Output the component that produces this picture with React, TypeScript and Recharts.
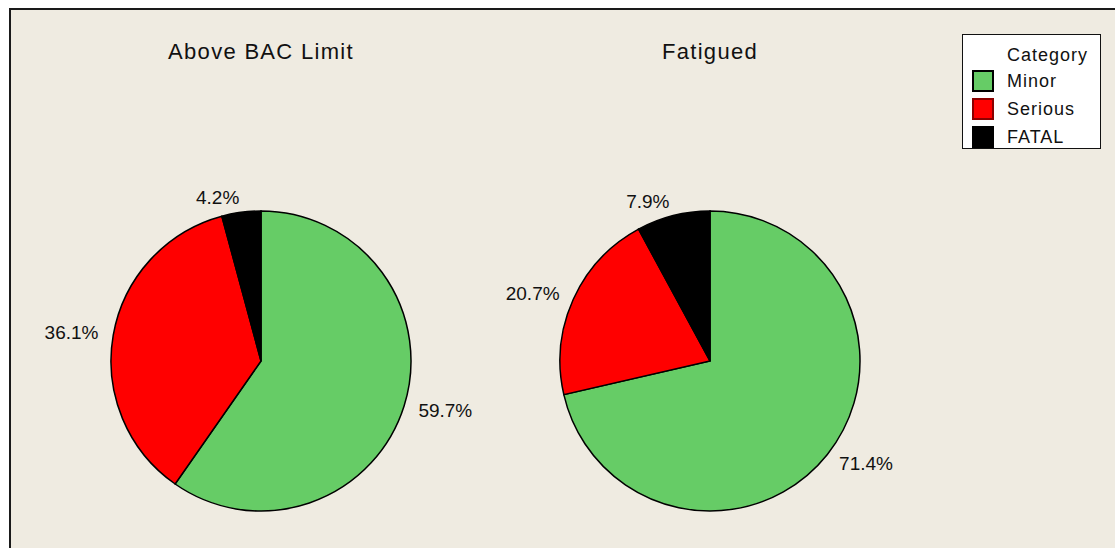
import React from 'react';
import { PieChart, Pie, Cell, Legend } from 'recharts';

const categories = ['Minor', 'Serious', 'FATAL'];
const colors = ['#66CC66', '#FF0000', '#000000'];
const swatchBorders = ['#000000', '#8B0000', '#000000'];
const aboveBacValues = [59.7, 36.1, 4.2];
const fatiguedValues = [71.4, 20.7, 7.9];
const pieTitles = ['Above BAC Limit', 'Fatigued'];

const aboveData = categories.map((name, i) => ({ name, value: aboveBacValues[i] }));
const fatiguedData = categories.map((name, i) => ({ name, value: fatiguedValues[i] }));

const FONT = '"Liberation Sans", Arial, sans-serif';
const RAD = Math.PI / 180;

const renderLabel = (props: any) => {
  const { cx, cy, midAngle, outerRadius, value } = props;
  const R = outerRadius + 15;
  const dx = Math.cos(-midAngle * RAD);
  const dy = Math.sin(-midAngle * RAD);
  const x = cx + R * dx;
  const y = cy + R * dy;
  return (
    <text
      x={x}
      y={y}
      textAnchor={dx >= 0 ? 'start' : 'end'}
      dominantBaseline="central"
      fill="#111"
      style={{ fontFamily: FONT, fontSize: 19 }}
    >
      {value.toFixed(1) + '%'}
    </text>
  );
};

const LegendBox = () => (
  <div
    style={{
      width: 139,
      height: 115,
      background: '#fff',
      border: '1.5px solid #111',
      boxSizing: 'border-box',
      fontFamily: FONT,
      fontSize: 18,
      letterSpacing: 1,
      color: '#111',
      position: 'relative',
    }}
  >
    <div style={{ position: 'absolute', left: 44, top: 9, lineHeight: '22px' }}>Category</div>
    {categories.map((c, i) => (
      <div key={c}>
        <div
          style={{
            position: 'absolute',
            left: 9,
            top: 35 + i * 28,
            width: 22,
            height: 22,
            boxSizing: 'border-box',
            background: colors[i],
            border: `2px solid ${swatchBorders[i]}`,
          }}
        />
        <div style={{ position: 'absolute', left: 44, top: 35 + i * 28, lineHeight: '22px' }}>{c}</div>
      </div>
    ))}
  </div>
);

export default function App() {
  return (
    <div style={{ position: 'absolute', left: 0, top: 0, width: 1115, height: 548, background: '#fff', overflow: 'hidden' }}>
      <div
        style={{
          position: 'absolute',
          left: 9,
          top: 8,
          width: 1130,
          height: 560,
          background: '#EFEBE1',
          border: '2px solid #1a1a1a',
        }}
      />
      {pieTitles.map((t, i) => (
        <div
          key={t}
          style={{
            position: 'absolute',
            left: (i === 0 ? 261 : 710) - 150,
            width: 300,
            top: 38,
            textAlign: 'center',
            fontFamily: FONT,
            fontSize: 22,
            letterSpacing: 1.3,
            color: '#111',
            lineHeight: '28px',
          }}
        >
          {t}
        </div>
      ))}
      <div style={{ position: 'absolute', left: 0, top: 0 }}>
        <PieChart width={1115} height={548} margin={{ top: 0, right: 0, bottom: 0, left: 0 }}>
          <Pie
            data={aboveData}
            dataKey="value"
            nameKey="name"
            cx={261}
            cy={361}
            outerRadius={150}
            startAngle={90}
            endAngle={-270}
            stroke="#000"
            strokeWidth={1.5}
            label={renderLabel}
            labelLine={false}
            isAnimationActive={false}
          >
            {aboveData.map((d, i) => (
              <Cell key={d.name} fill={colors[i]} stroke="#000" />
            ))}
          </Pie>
          <Pie
            data={fatiguedData}
            dataKey="value"
            nameKey="name"
            cx={710}
            cy={361}
            outerRadius={150}
            startAngle={90}
            endAngle={-270}
            stroke="#000"
            strokeWidth={1.5}
            label={renderLabel}
            labelLine={false}
            isAnimationActive={false}
          >
            {fatiguedData.map((d, i) => (
              <Cell key={d.name} fill={colors[i]} stroke="#000" />
            ))}
          </Pie>
          <Legend
            content={() => <LegendBox />}
            wrapperStyle={{ position: 'absolute', left: 962, top: 34, width: 139, height: 115 }}
          />
        </PieChart>
      </div>
    </div>
  );
}
